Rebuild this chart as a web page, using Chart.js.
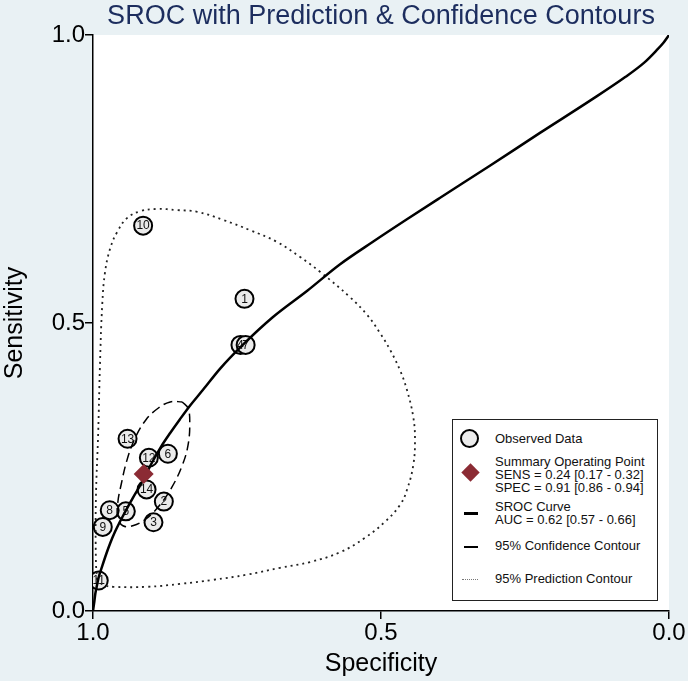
<!DOCTYPE html>
<html>
<head>
<meta charset="utf-8">
<script src="https://cdn.jsdelivr.net/npm/chart.js@4.4.1/dist/chart.umd.min.js"></script>
<style>
  html, body { margin:0; padding:0; background:#e9f1f4; }
  #wrap { position:relative; width:688px; height:681px; }
  #legendBox {
    position:absolute; left:452px; top:419px; width:204px; height:180px;
    background:#fff; border:1.5px solid #222;
    font-family:"Liberation Sans", Arial, sans-serif; font-size:13px; color:#111;
  }
  #legendBox .t { position:absolute; left:42px; line-height:13px; white-space:nowrap; }
  #legendBox .sym { position:absolute; }
</style>
</head>
<body>
<div id="wrap">
  <canvas id="sroc" width="688" height="681"></canvas>
  <div id="legendBox">
    <div class="sym" style="left:7px;top:9px;width:15px;height:15px;border:2px solid #000;border-radius:50%;background:#ebebeb"></div>
    <div class="t" style="top:12px">Observed Data</div>
    <div class="sym" style="left:11px;top:46px;width:13px;height:13px;background:#8b2b34;transform:rotate(45deg)"></div>
    <div class="t" style="top:35px">Summary Operating Point<br>SENS = 0.24 [0.17 - 0.32]<br>SPEC = 0.91 [0.86 - 0.94]</div>
    <div class="sym" style="left:11px;top:92px;width:14px;height:2.5px;background:#000"></div>
    <div class="t" style="top:80px">SROC Curve<br>AUC = 0.62 [0.57 - 0.66]</div>
    <div class="sym" style="left:11px;top:126px;width:14px;height:1.5px;background:#000"></div>
    <div class="t" style="top:119px">95% Confidence Contour</div>
    <div class="sym" style="left:9px;top:159px;width:16px;height:0;border-top:1.5px dotted #777"></div>
    <div class="t" style="top:152px">95% Prediction Contour</div>
  </div>
</div>
<script>
// observed studies
const studyIds  = [1, 2, 3, 4, 5, 6, 7, 8, 9, 10, 11, 12, 13, 14];
const studySpec = [0.737, 0.877, 0.895, 0.744, 0.943, 0.870, 0.735, 0.971, 0.983, 0.913, 0.990, 0.903, 0.940, 0.907];
const studySens = [0.542, 0.190, 0.154, 0.462, 0.173, 0.273, 0.462, 0.175, 0.146, 0.669, 0.053, 0.266, 0.299, 0.211];

// summary operating point
const summarySpec = [0.912];
const summarySens = [0.238];

// SROC curve
const srocSpec = [1.000, 0.998, 0.996, 0.993, 0.990, 0.984, 0.977, 0.970, 0.962, 0.948, 0.931, 0.913, 0.898, 0.882, 0.866, 0.849, 0.832, 0.809, 0.780, 0.740, 0.688, 0.628, 0.571, 0.514, 0.455, 0.398, 0.311, 0.224, 0.137, 0.076, 0.042, 0.021, 0.010, 0.000];
const srocSens = [0.000, 0.014, 0.030, 0.045, 0.059, 0.078, 0.099, 0.118, 0.137, 0.165, 0.196, 0.227, 0.257, 0.285, 0.309, 0.333, 0.356, 0.384, 0.420, 0.462, 0.510, 0.556, 0.602, 0.641, 0.680, 0.717, 0.773, 0.830, 0.886, 0.927, 0.953, 0.974, 0.986, 1.000];

// 95% confidence contour
const confSpec = [0.845, 0.835, 0.832, 0.835, 0.845, 0.863, 0.884, 0.908, 0.931, 0.948, 0.957, 0.957, 0.951, 0.941, 0.927, 0.908, 0.887, 0.866, 0.845];
const confSens = [0.363, 0.352, 0.326, 0.288, 0.253, 0.215, 0.184, 0.160, 0.148, 0.148, 0.163, 0.188, 0.220, 0.262, 0.300, 0.332, 0.352, 0.363, 0.363];

// 95% prediction contour
const predSpec = [0.993, 0.995, 0.995, 0.991, 0.988, 0.984, 0.979, 0.970, 0.958, 0.941, 0.918, 0.889, 0.854, 0.819, 0.774, 0.727, 0.681, 0.641, 0.606, 0.554, 0.524, 0.502, 0.484, 0.467, 0.455, 0.444, 0.441, 0.444, 0.455, 0.467, 0.493, 0.528, 0.571, 0.623, 0.675, 0.733, 0.792, 0.849, 0.906, 0.965, 0.981, 0.993];
const predSens = [0.054, 0.089, 0.193, 0.309, 0.424, 0.531, 0.589, 0.630, 0.658, 0.682, 0.694, 0.698, 0.696, 0.693, 0.679, 0.661, 0.641, 0.615, 0.589, 0.545, 0.514, 0.483, 0.453, 0.418, 0.384, 0.337, 0.297, 0.253, 0.210, 0.184, 0.155, 0.127, 0.102, 0.085, 0.075, 0.063, 0.054, 0.047, 0.042, 0.042, 0.045, 0.054];

const FONT = '"Liberation Sans", Arial, sans-serif';
const pts = (xs, ys) => xs.map((x, i) => ({ x, y: ys[i] }));

const whiteArea = {
  id: 'whiteArea',
  beforeDraw(chart){
    const { ctx, chartArea: a } = chart;
    ctx.save();
    ctx.fillStyle = '#fff';
    ctx.fillRect(a.left, a.top, a.right - a.left, a.bottom - a.top);
    ctx.restore();
  }
};

// study numbers inside the circles
const studyLabels = {
  id: 'studyLabels',
  afterDatasetDraw(chart, args){
    if(args.index !== 4) return;
    const { ctx } = chart;
    ctx.save();
    ctx.font = '12px ' + FONT;
    ctx.fillStyle = '#111';
    ctx.textAlign = 'center';
    ctx.textBaseline = 'middle';
    args.meta.data.forEach((el, i) => ctx.fillText(String(studyIds[i]), el.x, el.y + 0.5));
    ctx.restore();
  }
};

const axisCommon = {
  type: 'linear', min: 0, max: 1,
  ticks: { stepSize: 0.5, color: '#000', font: { family: FONT, size: 24 }, padding: 0, autoSkip: false, maxRotation: 0,
           callback: v => Number(v).toFixed(1) },
  grid: { drawOnChartArea: false, drawTicks: true, tickLength: 8, color: '#000', lineWidth: 1.5 },
  border: { display: true, color: '#000', width: 1.5 }
};

new Chart(document.getElementById('sroc').getContext('2d'), {
  type: 'scatter',
  data: {
    datasets: [
      { label: 'Summary Operating Point', data: pts(summarySpec, summarySens), order: 0,
        pointStyle: 'rectRot', pointRadius: 10, backgroundColor: '#8b2b34', borderColor: '#8b2b34', borderWidth: 0 },
      { label: 'SROC Curve', data: pts(srocSpec, srocSens), order: 1, showLine: true, pointRadius: 0,
        borderColor: '#000', borderWidth: 2.5, cubicInterpolationMode: 'monotone' },
      { label: '95% Confidence Contour', data: pts(confSpec, confSens), order: 2, showLine: true, pointRadius: 0,
        borderColor: '#000', borderWidth: 1.5, borderDash: [9, 5], tension: 0.4 },
      { label: '95% Prediction Contour', data: pts(predSpec, predSens), order: 3, showLine: true, pointRadius: 0,
        borderColor: '#222', borderWidth: 1.8, borderDash: [2, 4], tension: 0.4 },
      { label: 'Observed Data', data: pts(studySpec, studySens), order: 4,
        pointRadius: 9, backgroundColor: '#ebebeb', borderColor: '#000', borderWidth: 2 }
    ]
  },
  options: {
    responsive: false,
    animation: false,
    layout: { padding: { left: 0, right: 19, top: 0, bottom: 0 } },
    plugins: {
      legend: { display: false },
      tooltip: { enabled: false },
      title: { display: true, text: 'SROC with Prediction & Confidence Contours', fullSize: false,
               color: '#1c2d5e', font: { family: FONT, size: 27, weight: 'normal' }, padding: { top: 0.5, bottom: 2.1 } }
    },
    scales: {
      x: { ...axisCommon, reverse: true, position: 'bottom',
           title: { display: true, text: 'Specificity', color: '#000', font: { family: FONT, size: 25 }, padding: { top: 0, bottom: 2 } },
           afterFit(s){ s.height = 70; } },
      y: { ...axisCommon, position: 'left',
           title: { display: true, text: 'Sensitivity', color: '#000', font: { family: FONT, size: 25 }, padding: 0 },
           afterFit(s){ s.width = 93; } }
    }
  },
  plugins: [whiteArea, studyLabels]
});
</script>
</body>
</html>
